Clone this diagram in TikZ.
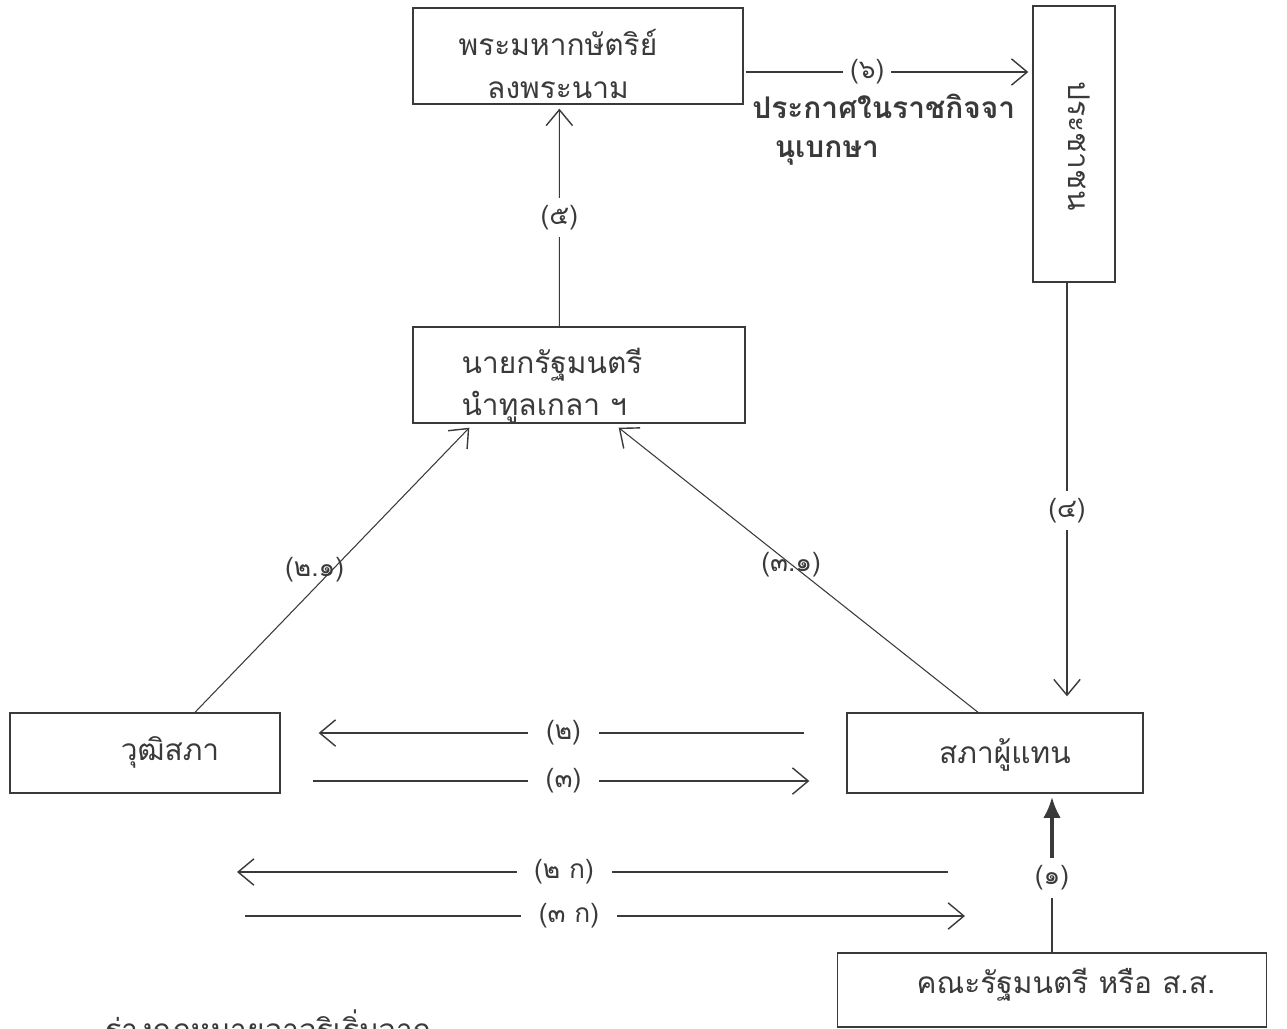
\documentclass[tikz,border=0pt]{standalone}
\usepackage{fontspec}
\newfontfamily\thai[Script=Thai]{Loma}
\usetikzlibrary{arrows.meta,calc}
\definecolor{ink}{HTML}{3A3A3A}
\begin{document}
\begin{tikzpicture}[x=0.02cm,y=-0.02cm,
  box/.style={draw=ink, line width=0.8pt, inner sep=0pt},
  txt/.style={text=ink, inner sep=0pt, font=\thai\fontsize{17}{24}\selectfont},
  lbl/.style={text=ink, fill=white, inner sep=4pt, font=\thai\fontsize{15}{18}\selectfont},
  lbln/.style={text=ink, inner sep=2pt, font=\thai\fontsize{15}{18}\selectfont},
  ln/.style={draw=ink, line width=0.6pt},
  barb/.tip={Straight Barb[length=9pt,width=15pt,line width=0.8pt]},
]
\useasboundingbox (0,0) rectangle (1287,1028);
\clip (0,0) rectangle (1287,1028);
\fill[white] (0,0) rectangle (1287,1028);

% boxes
\node[box, minimum width=6.6cm, minimum height=1.92cm] (b1) at (578,56) {};
\node[box, minimum width=1.64cm, minimum height=5.52cm] (b2) at (1074,144) {};
\node[box, minimum width=6.64cm, minimum height=1.92cm] (b3) at (579,375) {};
\node[box, minimum width=5.4cm, minimum height=1.6cm] (b4) at (145,753) {};
\node[box, minimum width=5.92cm, minimum height=1.6cm] (b5) at (995,753) {};
\node[box, minimum width=8.58cm, minimum height=1.48cm] (b6) at (1052,990) {};

% texts
\node[txt, align=center] (t1) at (558,64) {พระมหากษัตริย์\\ลงพระนาม};
\node[txt, rotate=-90] (t2) at (1079,146) {ประชาชน};
\node[txt, align=left] (t3) at (552,386) {นายกรัฐมนตรี\\นำทูลเกลา ฯ};
\node[txt] (t4) at (170,752) {วุฒิสภา};
\node[txt] (t5) at (1005,755) {สภาผู้แทน};
\node[txt] (t6) at (1066,985) {คณะรัฐมนตรี หรือ ส.ส.};
\node[txt, align=left, anchor=north west, font=\thai\bfseries\fontsize{17}{22}\selectfont] (t7) at (752,94) {ประกาศในราชกิจจา\\\hspace{0.75em}นุเบกษา};
\node[txt, anchor=base west] (t8) at (105,1040) {ร่างกฎหมายอาจริเริ่มจาก};

% connectors
\draw[ln, -barb] ($(b3.north west)+(147,0)$) -- node[lbl, pos=0.5] {(๕)} ($(b1.south west)+(147,4)$);
\draw[ln, -barb] ($(b1.east)+(2,16)$) -- node[lbl, pos=0.43] {(๖)} ($(b2.west)+(-4,-72)$);
\draw[ln, -barb] ($(b2.south)+(-7,0)$) -- node[lbl, pos=0.55] {(๔)} ($(b5.north)+(72,-16)$);
\draw[ln, -barb] ($(b4.north)+(50,0)$) -- node[lbln, pos=0.5, xshift=-10] {(๒.๑)} ($(b3.south west)+(57,4)$);
\draw[ln, -barb] ($(b5.north)+(-17,0)$) -- node[lbln, pos=0.52] {(๓.๑)} ($(b3.south east)+(-127,4)$);
\draw[ln, barb-, shorten <=38*0.02cm, shorten >=42*0.02cm] ($(b4.east)+(0,-20)$) -- node[lbl, inner xsep=10pt] {(๒)} ($(b5.west)+(0,-20)$);
\draw[ln, -barb, shorten <=32*0.02cm, shorten >=37*0.02cm] ($(b4.east)+(0,28)$) -- node[lbl, inner xsep=10pt] {(๓)} ($(b5.west)+(0,28)$);
\coordinate (c2l) at (237,872);
\coordinate (c2r) at (948,872);
\coordinate (c3l) at (245,916);
\coordinate (c3r) at (965,916);
\draw[ln, barb-] (c2l) -- node[lbl, pos=0.46, inner xsep=10pt] {(๒ ก)} (c2r);
\draw[ln, -barb] (c3l) -- node[lbl, pos=0.45, inner xsep=10pt] {(๓ ก)} (c3r);
\node[lbl] (l1) at (1052,878) {(๑)};
\draw[ln] (b6.north) -- (l1.south);
\draw[draw=ink, line width=2.2pt, -{Latex[length=12pt,width=10pt]}] (l1.north) -- ($(b5.south)+(57,3)$);
\end{tikzpicture}
\end{document}
